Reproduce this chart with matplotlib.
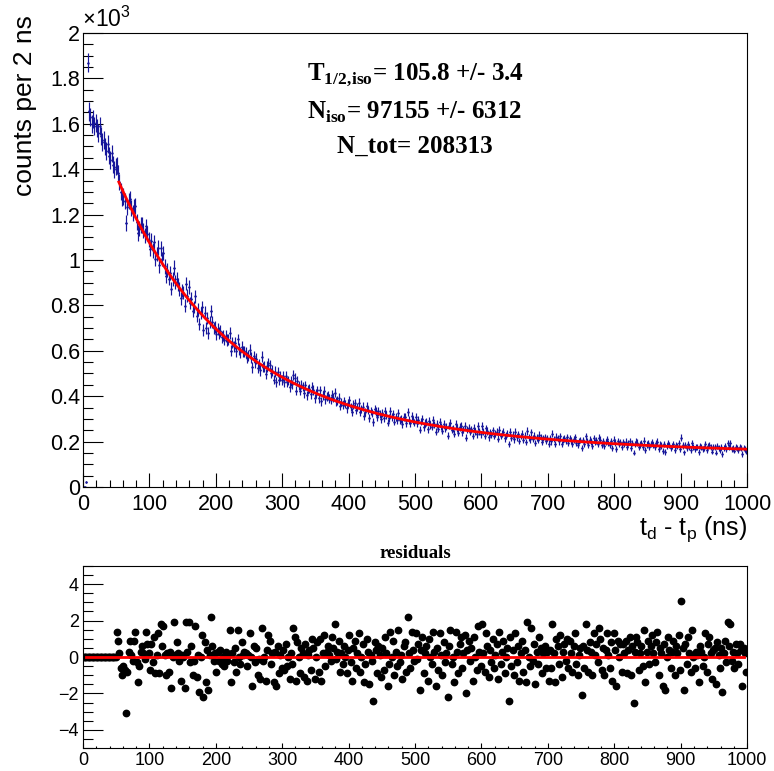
import numpy as np
import matplotlib
matplotlib.use('Agg')
import matplotlib.pyplot as plt
from matplotlib.ticker import MultipleLocator, FuncFormatter

plt.rcParams['font.family'] = ['Liberation Sans', 'DejaVu Sans']
plt.rcParams['mathtext.fontset'] = 'custom'
plt.rcParams['mathtext.rm'] = 'Liberation Serif:bold'
plt.rcParams['mathtext.bf'] = 'Liberation Serif:bold'
plt.rcParams['mathtext.sf'] = 'Liberation Sans'

# histogram: 500 bins of 2 ns
BIN_WIDTH = 2
N_BINS = 500

# counts in the first 25 bins (before the fit range)
EARLY_COUNTS = [0, 0, 20, 1870, 1655, 1630, 1600, 1620, 1590, 1605, 1580, 1560, 1590,
                1545, 1520, 1530, 1500, 1480, 1510, 1460, 1440, 1470, 1420, 1400, 1410]

# fit result (decay + background)
T_HALF = 105.8
N_ISO = 97155
BKG_AMP = 360
BKG_TAU = 400
BKG_CONST = 135

# residuals (data - fit)/error for bins 25..499
RESIDUALS = [
    1.4, 0.9, 0.2, -0.6, -1.0, -0.5, -0.7, -3.1, -0.8, 0.3, 0.9, 0.1, -0.2, 0.9, 1.4, -0.3, -1.4, -0.5, 0.3, 0.6, 0.2, -0.1, 1.4, 0.7, 0.2,
    -0.7, 0.7, -0.3, 1.1, -0.9, 0.1, 1.3, -0.9, 1.8, 0.6, 1.7, 0.1, -1.0, 0.2, -0.8, 0.3, -1.7, 0.0, 1.9, 0.1, 0.8, 0.2, -0.2, -1.3, 0.1,
    0.0, -1.7, 1.9, 0.3, 1.9, -0.3, 0.6, -1.0, -0.2, 1.7, -1.1, 0.1, -1.9, 0.0, 1.2, -2.2, 0.8, -1.4, 0.4, -1.8, 0.1, 2.2, 0.6, -0.2, 0.2,
    -0.8, 0.3, -0.2, 0.4, -0.4, 0.0, -0.5, 0.3, -0.2, 0.1, 1.5, -1.4, 0.2, -0.3, 0.5, -0.8, 1.5, 0.0, -0.4, 0.8, 0.1, 0.3, 0.2, -0.5, 0.1,
    1.3, 0.0, -1.6, 0.6, -0.3, 0.5, -1.0, -0.1, -1.2, 1.6, -0.2, 0.0, -1.3, 0.4, 1.2, 0.9, -0.4, 0.2, -1.4, 0.3, -1.6, 0.6, -0.9, 0.1, -0.6,
    0.4, -0.7, 0.7, -0.5, 0.0, -1.2, 0.2, -0.4, 1.6, 1.1, -1.3, 0.8, 0.0, -0.9, 0.5, 0.2, -1.1, 0.7, -1.3, 0.1, 0.4, -0.7, 1.0, 0.5, -1.2,
    0.0, 0.8, -0.8, 1.0, -1.3, 0.2, 1.2, -0.5, 0.3, 0.6, 0.1, -0.2, 1.1, 0.5, 1.8, -0.1, 0.3, 0.9, -0.8, 0.2, -0.4, 0.6, 0.0, -0.9, 0.4,
    1.2, -0.3, -1.3, 0.5, 0.9, -0.6, 0.2, 1.3, -0.8, 0.0, 0.7, -1.4, -0.4, 1.0, 0.3, -1.5, 0.1, -0.2, -2.4, 0.8, 0.4, -0.9, 0.6, 0.1, -1.1,
    0.5, -0.7, 1.1, 0.2, -1.6, -0.4, 1.4, 0.0, 0.9, -1.0, 0.3, -0.5, 1.5, -0.3, 0.1, -1.2, 0.6, 0.8, -0.8, 2.2, 0.2, -0.6, 1.4, 0.4, -0.2,
    1.3, -0.1, 0.7, -1.8, 0.4, 1.1, -0.9, 0.2, 0.6, -1.3, 1.0, 0.0, -0.4, 1.4, 0.3, -1.6, 0.5, -0.7, 1.3, 0.1, -1.0, 0.8, -0.3, 0.2, -2.2,
    0.6, 1.5, -0.4, 0.0, -1.4, 1.4, 0.3, -0.9, 0.7, 1.1, -0.6, 0.2, 1.2, -2.0, 0.4, 0.9, -0.2, 0.5, -1.3, 1.1, 0.0, -0.7, 1.7, 0.3, -0.5,
    1.8, 0.2, -0.8, 1.3, 0.6, -1.1, 0.4, -0.3, 1.0, -0.6, 0.1, 0.7, -1.2, 1.4, -0.4, 0.3, 0.9, -0.9, 0.0, 0.5, -2.4, 1.1, -0.5, 0.4, -1.0,
    1.3, -0.3, 0.6, -1.3, 0.2, 0.9, -0.8, 0.4, -1.4, 1.9, 0.0, -0.5, 1.6, -0.2, 0.7, -1.5, 0.3, -0.4, 1.1, 0.5, -0.9, 0.2, 0.6, -0.6, 0.3,
    -1.3, 0.4, -0.6, 1.8, 0.2, -1.4, 1.0, 0.6, -0.4, 1.2, -1.1, 0.3, 0.7, -0.2, 1.0, -0.6, 0.9, 0.2, -0.8, 0.6, 1.3, -0.4, -1.0, 0.1, 0.5,
    -2.1, 0.6, -0.6, 1.8, 0.4, -0.8, 0.8, 0.3, -1.0, 1.3, 0.1, 0.7, -0.3, 1.6, 1.0, -0.7, 0.5, -1.0, 0.4, 1.3, 0.1, -0.6, 0.8, -1.3, 1.3,
    0.4, -1.6, 0.9, 0.0, 0.7, -0.8, 0.7, 0.2, 0.9, -0.9, 0.4, 1.1, -1.0, 0.6, -2.5, 0.3, 1.1, 0.8, -0.7, 0.2, 0.6, -0.5, 1.5, -1.4, 0.3,
    0.9, -0.4, 0.6, 1.2, 0.2, -0.3, 0.8, 1.4, -1.0, 0.5, 0.2, -1.6, 0.7, -1.8, 0.0, 1.1, 0.4, -0.6, 0.3, 0.9, -1.0, 0.6, 0.2, 1.2, -0.7,
    3.1, 0.5, -1.8, 0.7, -0.4, 1.1, 0.2, -0.8, 1.5, 0.0, -0.6, 0.3, 0.1, -1.4, 0.6, 0.3, -0.5, 0.0, 1.3, -0.8, 0.7, 1.1, 0.2, -1.2, 0.4,
    0.5, -1.5, 0.8, 0.1, -0.6, 0.5, -1.9, 0.2, 0.9, -0.3, 1.9, 0.6, 1.8, -0.2, 0.3, -0.6, 0.7, 0.2, -0.4, 0.7, 0.4, -1.6, 0.5, 0.2, -0.8,
]

FIT_LO = 54
FIT_HI = 1000

BLUE = '#16169a'


def fit_func(t):
    lam = np.log(2) / T_HALF
    return N_ISO * lam * BIN_WIDTH * np.exp(-lam * t) + BKG_AMP * np.exp(-t / BKG_TAU) + BKG_CONST


centers = np.arange(N_BINS) * BIN_WIDTH + BIN_WIDTH / 2
n_early = len(EARLY_COUNTS)
fit_at_bins = fit_func(centers[n_early:])
resid = np.array(RESIDUALS)
counts = np.concatenate([EARLY_COUNTS, fit_at_bins + resid * np.sqrt(fit_at_bins)])
errs = np.sqrt(counts)
resid_all = np.concatenate([np.zeros(n_early), resid])

fig = plt.figure(figsize=(7.74, 7.71), dpi=100)
ax = fig.add_axes([0.1072, 0.3684, 0.858, 0.5888])
ax2 = fig.add_axes([0.1072, 0.0298, 0.858, 0.2361])

# ---- top panel
ax.errorbar(centers, counts, yerr=errs, xerr=BIN_WIDTH / 2, fmt='.', ms=1.5,
            color=BLUE, elinewidth=0.85, capsize=0, zorder=2)
tf = np.linspace(FIT_LO, FIT_HI, 600)
ax.plot(tf, fit_func(tf), color='#ff0000', lw=2, zorder=3)

ax.set_xlim(0, 1000)
ax.set_ylim(0, 2000)
ax.xaxis.set_major_locator(MultipleLocator(100))
ax.xaxis.set_minor_locator(MultipleLocator(20))
ax.yaxis.set_major_locator(MultipleLocator(200))
ax.yaxis.set_minor_locator(MultipleLocator(50))
ax.yaxis.set_major_formatter(FuncFormatter(lambda v, p: '%g' % (v / 1000)))
ax.tick_params(which='both', direction='in', top=False, right=False, width=0.8,
               labelsize=15.5)
ax.tick_params(axis='y', which='major', length=14.4, pad=2)
ax.tick_params(axis='y', which='minor', length=7.2)
ax.tick_params(axis='x', which='major', length=10, pad=5)
ax.tick_params(axis='x', which='minor', length=5)
for s in ax.spines.values():
    s.set_linewidth(0.8)

ax.text(-0.001, 1.002, r'$\times$10$^{\mathsf{3}}$', transform=ax.transAxes,
        ha='left', va='bottom', fontsize=16.5)
ax.text(-0.088, 1.04, 'counts per 2 ns', transform=ax.transAxes, rotation=90,
        ha='center', va='top', fontsize=19)
ax.text(1.0, -0.06, r't$_{\mathsf{d}}$ - t$_{\mathsf{p}}$ (ns)', transform=ax.transAxes,
        ha='right', va='top', fontsize=18)

txt = dict(ha='center', va='center', fontsize=18, family='Liberation Serif',
           fontweight='bold', transform=fig.transFigure)
fig.text(415 / 774, 1 - 75 / 771, r'T$_{\mathrm{1/2,\!iso}}$= 105.8 +/- 3.4', **txt)
fig.text(415 / 774, 1 - 112 / 771, r'N$_{\mathrm{iso}}$= 97155 +/- 6312', **txt)
fig.text(415 / 774, 1 - 146 / 771, 'N_tot= 208313', **txt)

# ---- residual panel
ax2.plot(centers, resid_all, 'o', ms=4.6, color='black', zorder=2)
ax2.plot([5, 995], [0, 0], color='#ff0000', lw=2, zorder=3)
ax2.set_xlim(0, 1000)
ax2.set_ylim(-5, 5)
ax2.xaxis.set_major_locator(MultipleLocator(100))
ax2.xaxis.set_minor_locator(MultipleLocator(20))
ax2.yaxis.set_major_locator(MultipleLocator(2))
ax2.yaxis.set_minor_locator(MultipleLocator(0.5))
ax2.tick_params(which='both', direction='in', top=False, right=False, width=0.8,
                labelsize=13)
ax2.tick_params(axis='y', which='major', length=14.4, pad=3)
ax2.tick_params(axis='y', which='minor', length=7.2)
ax2.tick_params(axis='x', which='major', length=3.6, pad=3)
ax2.tick_params(axis='x', which='minor', length=1.8)
for s in ax2.spines.values():
    s.set_linewidth(0.8)
ax2.set_title('residuals', family='Liberation Serif', fontweight='bold',
              fontsize=13.5, pad=6)

fig.savefig('out.png', dpi=100)
